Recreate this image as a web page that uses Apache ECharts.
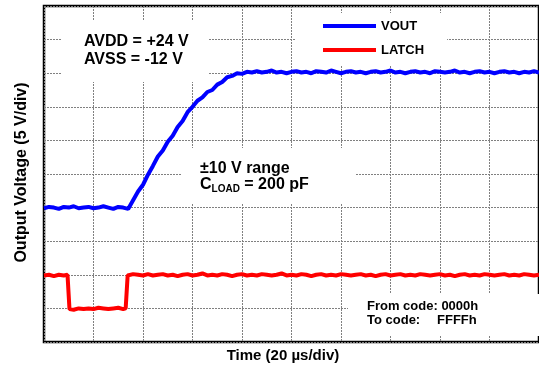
<!DOCTYPE html>
<html>
<head>
<meta charset="utf-8">
<script src="https://cdn.jsdelivr.net/npm/echarts@6/dist/echarts.min.js"></script>
<style>
  html, body { margin: 0; padding: 0; background: #fff; }
  #chart { width: 539px; height: 368px; }
</style>
</head>
<body>
<div id="chart"></div>
<script>
// Time axis: 20 µs per division, 10 divisions
var timeTicks = [0, 20, 40, 60, 80, 100, 120, 140, 160, 180, 200];
// Voltage axis: 5 V per division, 10 divisions
var voltTicks = [-30, -25, -20, -15, -10, -5, 0, 5, 10, 15, 20];

// VOUT trace (µs, V)
var voutTime = [
  0, 2, 4, 6, 8, 10, 12, 14, 16, 18, 20, 22, 24, 26, 28, 30, 32, 34, 36, 38,
  40, 42, 44, 46, 48, 50, 52, 54, 56, 58, 60, 62, 64, 66, 68, 70, 72, 74, 76, 78,
  80, 82, 84, 86, 88, 90, 92, 94, 96, 98, 100, 102, 104, 106, 108, 110, 112, 114, 116, 118,
  120, 122, 124, 126, 128, 130, 132, 134, 136, 138, 140, 142, 144, 146, 148, 150, 152, 154, 156, 158,
  160, 162, 164, 166, 168, 170, 172, 174, 176, 178, 180, 182, 184, 186, 188, 190, 192, 194, 196, 198, 200
];
var voutVolts = [
  -10.1, -9.9, -10.0, -10.2, -9.9, -10.0, -9.8, -10.1, -10.0, -9.9, -10.1, -10.0, -9.8, -10.0, -10.2, -9.9, -10.0, -10.2, -8.9, -7.6,
  -6.6, -5.1, -3.8, -2.4, -1.5, -0.2, 0.7, 2.0, 2.9, 4.2, 5.0, 5.9, 6.4, 7.2, 7.5, 8.3, 8.7, 9.4, 9.6, 10.0,
  9.9, 10.2, 10.1, 10.3, 10.1, 10.2, 10.4, 10.1, 10.2, 10.0, 10.2, 10.3, 10.1, 10.2, 10.0, 10.3, 10.2, 10.1, 10.4, 10.2,
  10.0, 10.2, 10.3, 10.1, 10.2, 10.0, 10.2, 10.3, 10.1, 10.2, 10.4, 10.1, 10.2, 10.0, 10.2, 10.3, 10.1, 10.2, 10.0, 10.3,
  10.2, 10.1, 10.2, 10.4, 10.1, 10.2, 10.0, 10.2, 10.3, 10.1, 10.2, 10.0, 10.2, 10.3, 10.1, 10.2, 10.0, 10.2, 10.1, 10.3, 10.1
];

// LATCH trace (µs, V on the shared 5 V/div scale)
var latchTime = [
  0, 2, 4, 6, 8, 9.5, 10.3, 12, 14, 16, 18, 20, 22, 24, 26, 28, 30, 32, 33.0, 33.8,
  36, 38, 40, 42, 44, 46, 48, 50, 52, 54, 56, 58, 60, 62, 64, 66, 68, 70, 72, 74,
  76, 78, 80, 82, 84, 86, 88, 90, 92, 94, 96, 98, 100, 102, 104, 106, 108, 110, 112, 114,
  116, 118, 120, 122, 124, 126, 128, 130, 132, 134, 136, 138, 140, 142, 144, 146, 148, 150, 152, 154,
  156, 158, 160, 162, 164, 166, 168, 170, 172, 174, 176, 178, 180, 182, 184, 186, 188, 190, 192, 194, 196, 198, 200
];
var latchVolts = [
  -20.1, -20.0, -20.2, -20.0, -20.1, -20.0, -25.1, -25.2, -25.0, -25.1, -25.0, -25.1, -24.9, -25.0, -25.1, -25.0, -24.9, -25.1, -25.0, -20.1,
  -19.9, -20.0, -20.1, -19.9, -20.1, -20.0, -19.9, -20.1, -20.0, -20.2, -20.0, -19.9, -20.1, -20.0, -19.8, -20.1, -20.0, -20.1, -19.9, -20.0,
  -20.2, -20.0, -19.9, -20.1, -20.0, -20.1, -19.9, -20.0, -20.1, -20.0, -19.8, -20.1, -20.0, -20.1, -19.9, -20.0, -20.2, -20.0, -19.9, -20.1,
  -20.0, -20.1, -19.9, -20.0, -20.1, -20.0, -19.9, -20.1, -20.0, -20.2, -20.0, -19.9, -20.1, -20.0, -19.9, -20.1, -20.0, -20.1, -19.9, -20.0,
  -20.1, -20.0, -19.9, -20.1, -20.0, -20.2, -20.0, -19.9, -20.1, -20.0, -20.1, -19.9, -20.0, -20.1, -20.0, -19.9, -20.1, -20.0, -20.1, -19.9, -20.0, -20.1, -20.0
];

function pairs(xs, ys) {
  var out = [];
  for (var i = 0; i < xs.length; i++) out.push([xs[i], ys[i]]);
  return out;
}

var FONT = '"Liberation Sans", Arial, Helvetica, sans-serif';
var gridLine = { show: true, lineStyle: { color: '#808080', width: 1, type: [2, 1] } };

var chart = echarts.init(document.getElementById('chart'), null, { renderer: 'canvas' });
chart.setOption({
  animation: false,
  backgroundColor: '#ffffff',
  grid: {
    left: 44, top: 6, right: -1, bottom: 26,
    show: true, backgroundColor: '#ffffff', borderColor: '#000000', borderWidth: 2.5
  },
  xAxis: {
    type: 'value',
    min: timeTicks[0], max: timeTicks[timeTicks.length - 1], interval: timeTicks[1] - timeTicks[0],
    axisLine: { show: false }, axisTick: { show: false }, axisLabel: { show: false },
    splitLine: gridLine
  },
  yAxis: {
    type: 'value',
    min: voltTicks[0], max: voltTicks[voltTicks.length - 1], interval: voltTicks[1] - voltTicks[0],
    axisLine: { show: false }, axisTick: { show: false }, axisLabel: { show: false },
    splitLine: gridLine
  },
  legend: {
    orient: 'vertical',
    left: 296, top: 13,
    padding: [6, 23, 8, 27],
    backgroundColor: '#ffffff',
    itemWidth: 53, itemHeight: 4, itemGap: 10,
    icon: 'rect',
    textStyle: { fontFamily: FONT, fontWeight: 'bold', fontSize: 13, color: '#000', lineHeight: 14 },
    data: ['VOUT', 'LATCH']
  },
  graphic: [
    { type: 'rect', z: 1, shape: { x: 62, y: 20, width: 147, height: 62 }, style: { fill: '#fff' } },
    { type: 'text', z: 1, left: 84, top: 33, style: { text: 'AVDD = +24 V\nAVSS = -12 V', font: 'bold 16px ' + FONT, fill: '#000', lineHeight: 18 } },
    { type: 'rect', z: 1, shape: { x: 182, y: 148, width: 173, height: 56 }, style: { fill: '#fff' } },
    { type: 'text', z: 1, left: 200, top: 161, style: { text: '±10 V range', font: 'bold 16px ' + FONT, fill: '#000' } },
    { type: 'text', z: 1, left: 200, top: 177,
      style: {
        text: '{a|C}{b|LOAD}{a| = 200 pF}',
        rich: {
          a: { fontFamily: FONT, fontWeight: 'bold', fontSize: 16, lineHeight: 18, fill: '#000' },
          b: { fontFamily: FONT, fontWeight: 'bold', fontSize: 10, lineHeight: 10, verticalAlign: 'bottom', fill: '#000' }
        }
      }
    },
    { type: 'rect', z: 1, shape: { x: 348, y: 294, width: 192, height: 42 }, style: { fill: '#fff' } },
    { type: 'text', z: 1, left: 367, top: 300, style: { text: 'From code: 0000h', font: 'bold 13px ' + FONT, fill: '#000' } },
    { type: 'text', z: 1, left: 367, top: 314, style: { text: 'To code:', font: 'bold 13px ' + FONT, fill: '#000' } },
    { type: 'text', z: 1, left: 437, top: 314, style: { text: 'FFFFh', font: 'bold 13px ' + FONT, fill: '#000' } },
    { type: 'text', z: 1, x: 22, y: 172.5, rotation: Math.PI / 2,
      style: { text: 'Output Voltage (5 V/div)', font: 'bold 16px ' + FONT, fill: '#000', align: 'center', verticalAlign: 'middle' } },
    { type: 'text', z: 1, x: 283, y: 356,
      style: { text: 'Time (20 µs/div)', font: 'bold 15px ' + FONT, fill: '#000', align: 'center', verticalAlign: 'middle' } }
  ],
  series: [
    {
      name: 'VOUT', type: 'line', data: pairs(voutTime, voutVolts),
      showSymbol: false, symbol: 'none', color: '#0000ff',
      lineStyle: { width: 4, color: '#0000ff' }, z: 3
    },
    {
      name: 'LATCH', type: 'line', data: pairs(latchTime, latchVolts),
      showSymbol: false, symbol: 'none', color: '#ff0000',
      lineStyle: { width: 4, color: '#ff0000' }, z: 3
    }
  ]
});
</script>
</body>
</html>
